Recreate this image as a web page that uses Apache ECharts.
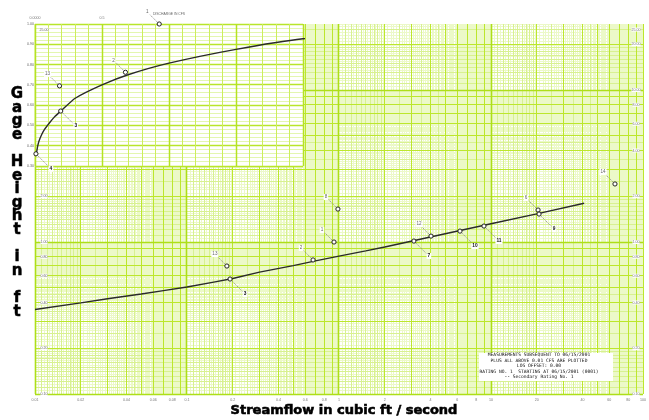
<!DOCTYPE html>
<html><head><meta charset="utf-8">
<script src="https://cdn.jsdelivr.net/npm/echarts@6/dist/echarts.min.js"></script>
<style>html,body{margin:0;padding:0;background:#fff}#c{width:649px;height:420px}</style>
</head><body><div id="c"></div>
<script>
// ---- Rating curve ----
const curveQ  = [0.01, 0.02, 0.03, 0.05, 0.07, 0.1, 0.15, 0.2, 0.3, 0.5, 0.7, 1, 1.5, 2, 5, 10, 20, 41];
const curveGH = [0.360, 0.398, 0.423, 0.455, 0.479, 0.506, 0.545, 0.575, 0.634, 0.700, 0.751, 0.807, 0.875, 0.927, 1.134, 1.319, 1.531, 1.798];

// ---- Measurements ----
const measId = ['1', '2', '3', '4', '6', '7', '8', '9', '10', '11', '12', '13', '14'];
const measQ  = [0.927, 0.675, 0.192, 0.007, 20.4, 3.11, 0.984, 20.7, 6.25, 8.99, 4.03, 0.183, 65.4];
const measGH = [1.00, 0.762, 0.571, 0.36, 1.624, 1.015, 1.648, 1.528, 1.18, 1.274, 1.094, 0.695, 2.41];
// label side: -1 = up-left (grey), 1 = down-right (bold)
const measSide = [-1, -1, 1, 1, -1, 1, -1, 1, 1, 1, -1, -1, -1];

// ---- Tick labels ----
const xTickLabels = ['0.01','0.02','0.04','0.06','0.08','0.1','0.2','0.4','0.6','0.8','1','2','4','6','8','10','20','40','60','80','100'];
const yTickRight = ['25.00','20.00','10.00','8.00','6.00','4.00','2.00','1.00','0.80','0.60','0.40','0.20','0.10'];
const yTickLeft = ['25.00','2.00','1.00','0.80','0.60','0.40','0.20','0.10'];
const insetXLabels = ['0.0000','0.5'];
const insetYLabels = ['1.00','0.90','0.80','0.70','0.60','0.50','0.40','0.30'];
const insetTitle = 'DISCHARGE IN CFS';
const noteLines = ['MEASUREMENTS SUBSEQUENT TO 06/15/2001','PLUS ALL ABOVE 0.01 CFS ARE PLOTTED','LOG OFFSET: 0.00','RATING NO. 1  STARTING AT 06/15/2001 (0001)','-- Secondary Rating No. 1'];
const xTitle = 'Streamflow in cubic ft / second';
const yTitle = 'Gage Height in ft';

// ---- Axis ranges ----
const X_MIN = 0.01, X_MAX = 100, Y_MIN = 0.1, Y_MAX = 27.2;
const IX_MIN = 0, IX_MAX = 2, IY_MIN = 0.3, IY_MAX = 1.0;

// ---- graph-paper rulings (per decade, multiples of the decade) ----
const xDecades = [0.01, 0.1, 1, 10];
const yDecades = [0.1, 1, 10];
const rulingLevels = [
  {segs: [[1, 2, 0.05], [2, 10, 0.1]], stroke: '#ecf9c8', w: 1},
  {segs: [[1, 2, 0.1], [2, 5, 0.5]], stroke: '#d8f191', w: 1},
  {segs: [[1, 10, 1]], stroke: '#bce72c', w: 1},
  {segs: [[1, 1, 1]], stroke: '#addf18', w: 1.6}
];
const insetXSteps = [[0.1, '#cdee5c', 1], [0.5, '#b5e322', 1.5]];
const insetYSteps = [[0.02, '#e3f6b0', 1], [0.1, '#b8e52a', 1.5]];

function logValues(decades, segs, lo, hi) {
  const out = [];
  decades.forEach(d => segs.forEach(s => {
    const n = Math.round((s[1] - s[0]) / s[2]);
    for (let i = 0; i <= n; i++) {
      const v = +(d * (s[0] + i * s[2])).toPrecision(10);
      if (v >= lo * 0.999999 && v <= hi * 1.000001) out.push(v);
    }
  }));
  return out;
}
function linValues(lo, hi, step) {
  const out = [];
  const n = Math.round((hi - lo) / step);
  for (let i = 0; i <= n; i++) out.push(+(lo + i * step).toFixed(6));
  return out;
}
const crisp = v => Math.round(v - 0.5) + 0.5;

function txt(x, y, text, extra) {
  return {type: 'text', x: x, y: y, style: Object.assign({
    text: text, fill: '#777', font: '3.6px "Liberation Sans"',
    align: 'center', verticalAlign: 'middle', textAlign: 'center', textVerticalAlign: 'middle'
  }, extra || {})};
}

const chart = echarts.init(document.getElementById('c'), null, {renderer: 'canvas'});

const mainGridSeries = {
  type: 'custom', xAxisIndex: 0, yAxisIndex: 0, z: 1, silent: true, data: [[1, 1]],
  renderItem: function (params, api) {
    const ch = [];
    rulingLevels.forEach(L => {
      logValues(xDecades, L.segs, X_MIN, X_MAX).forEach(v => {
        const a = api.coord([v, Y_MIN]), b = api.coord([v, Y_MAX]);
        const x = crisp(a[0]);
        ch.push({type: 'line', shape: {x1: x, y1: a[1], x2: x, y2: b[1]}, style: {stroke: L.stroke, lineWidth: L.w}});
      });
      logValues(yDecades, L.segs, Y_MIN, Y_MAX).forEach(v => {
        const a = api.coord([X_MIN, v]), b = api.coord([X_MAX, v]);
        const y = crisp(a[1]);
        ch.push({type: 'line', shape: {x1: a[0], y1: y, x2: b[0], y2: y}, style: {stroke: L.stroke, lineWidth: L.w}});
      });
    });
    return {type: 'group', children: ch};
  }
};

const insetGridSeries = {
  type: 'custom', xAxisIndex: 1, yAxisIndex: 1, z: 3, silent: true, data: [[1, 0.5]],
  renderItem: function (params, api) {
    const tl = api.coord([IX_MIN, IY_MAX]), br = api.coord([IX_MAX, IY_MIN]);
    const ch = [{type: 'rect', shape: {x: tl[0], y: tl[1], width: br[0] - tl[0], height: br[1] - tl[1]}, style: {fill: '#fff'}}];
    insetYSteps.forEach(s => linValues(IY_MIN, IY_MAX, s[0]).forEach(v => {
      const y = crisp(api.coord([IX_MIN, v])[1]);
      ch.push({type: 'line', shape: {x1: tl[0], y1: y, x2: br[0], y2: y}, style: {stroke: s[1], lineWidth: s[2]}});
    }));
    insetXSteps.forEach(s => linValues(IX_MIN, IX_MAX, s[0]).forEach(v => {
      const x = crisp(api.coord([v, IY_MIN])[0]);
      ch.push({type: 'line', shape: {x1: x, y1: tl[1], x2: x, y2: br[1]}, style: {stroke: s[1], lineWidth: s[2]}});
    }));
    return {type: 'group', children: ch};
  }
};

const mainLabelSeries = {
  type: 'custom', xAxisIndex: 0, yAxisIndex: 0, z: 9, silent: true, data: [[1, 1]],
  renderItem: function (params, api) {
    const ch = [];
    xTickLabels.forEach(t => { const p = api.coord([parseFloat(t), Y_MIN]); ch.push(txt(p[0], p[1] + 6, t)); });
    yTickRight.forEach(t => { const p = api.coord([X_MAX, parseFloat(t)]); ch.push(txt(p[0] - 7, p[1], t, {backgroundColor: '#fff'})); });
    yTickLeft.forEach(t => { const p = api.coord([X_MIN, parseFloat(t)]); ch.push(txt(p[0] + 9, p[1], t, {backgroundColor: '#fff', fill: '#666'})); });
    return {type: 'group', children: ch};
  }
};

const insetLabelSeries = {
  type: 'custom', xAxisIndex: 1, yAxisIndex: 1, z: 9, silent: true, data: [[1, 0.5]],
  renderItem: function (params, api) {
    const ch = [];
    insetYLabels.forEach(t => { const p = api.coord([IX_MIN, parseFloat(t)]); ch.push(txt(p[0] - 4.5, p[1], t, {fill: '#666'})); });
    insetXLabels.forEach(t => { const p = api.coord([parseFloat(t), IY_MAX]); ch.push(txt(p[0], p[1] - 6, t)); });
    const q = api.coord([1, IY_MAX]);
    ch.push(txt(q[0], q[1] - 10, insetTitle, {font: '3.4px "Liberation Sans"', fill: '#666'}));
    return {type: 'group', children: ch};
  }
};

function pointRender(params, api) {
  const i = api.value(2);
  const p = api.coord([api.value(0), api.value(1)]);
  const s = measSide[i];
  const dx = s < 0 ? -12 : 15, dy = s < 0 ? -12 : 15;
  const lx = p[0] + dx, ly = p[1] + dy;
  const len = Math.hypot(dx, dy), ux = dx / len, uy = dy / len;
  return {type: 'group', children: [
    {type: 'line', shape: {x1: p[0] + ux * 3, y1: p[1] + uy * 3, x2: lx - ux * 3.5, y2: ly - uy * 3.5},
     style: {stroke: '#8a8a8a', lineWidth: 0.8, lineDash: [1.5, 0.8]}},
    {type: 'circle', shape: {cx: p[0], cy: p[1], r: 2.1}, style: {fill: '#fff', stroke: '#222', lineWidth: 1}},
    txt(lx, ly, measId[i], s < 0
      ? {font: '4.6px "Liberation Sans"', fill: '#666', backgroundColor: '#fff', padding: [0.5, 1]}
      : {font: 'bold 4.8px "Liberation Sans"', fill: '#111', backgroundColor: '#fff', padding: [0.5, 1]})
  ]};
}

const mainPts = [], insetPts = [];
measId.forEach((id, i) => {
  const q = measQ[i], g = measGH[i];
  if (q >= X_MIN && q <= X_MAX && g >= Y_MIN && g <= Y_MAX) mainPts.push([q, g, i]);
  if (q >= IX_MIN && q <= IX_MAX && g >= IY_MIN && g <= IY_MAX + 1e-9) insetPts.push([q, g, i]);
});
const curveData = curveQ.map((q, i) => [q, curveGH[i]]);

const option = {
  animation: false,
  backgroundColor: '#fff',
  grid: [
    {left: 35, top: 24, width: 608, height: 370, show: false},
    {left: 35, top: 24, width: 268, height: 142, show: false}
  ],
  xAxis: [
    {gridIndex: 0, type: 'log', logBase: 10, min: X_MIN, max: X_MAX, show: false},
    {gridIndex: 1, type: 'value', min: IX_MIN, max: IX_MAX, show: false}
  ],
  yAxis: [
    {gridIndex: 0, type: 'log', logBase: 10, min: Y_MIN, max: Y_MAX, show: false},
    {gridIndex: 1, type: 'value', min: IY_MIN, max: IY_MAX, show: false}
  ],
  series: [
    mainGridSeries,
    {type: 'line', xAxisIndex: 0, yAxisIndex: 0, z: 4, data: curveData, showSymbol: false, silent: true,
     lineStyle: {color: '#2a2a2a', width: 1.4}},
    insetGridSeries,
    {type: 'line', xAxisIndex: 1, yAxisIndex: 1, z: 5, data: curveData, showSymbol: false, silent: true, clip: true,
     smooth: 0.2, lineStyle: {color: '#2a2a2a', width: 1.4}},
    {type: 'custom', xAxisIndex: 0, yAxisIndex: 0, z: 7, data: mainPts, renderItem: pointRender, silent: true},
    {type: 'custom', xAxisIndex: 1, yAxisIndex: 1, z: 7, data: insetPts, renderItem: pointRender, silent: true},
    mainLabelSeries,
    insetLabelSeries
  ],
  graphic: [
    {type: 'rect', z: 50, shape: {x: 479, y: 353, width: 134, height: 28}, style: {fill: '#fff'}},
    {type: 'text', z: 51, x: 539, y: 366, style: {
      text: noteLines.join('\n'), font: '4.6px "DejaVu Sans Mono"', fill: '#111', lineHeight: 5.4,
      align: 'center', verticalAlign: 'middle', textAlign: 'center', textVerticalAlign: 'middle'}},
    {type: 'text', z: 51, x: 344, y: 411, style: {
      text: xTitle, font: 'bold 13px "DejaVu Sans"', fill: '#000', stroke: '#000', lineWidth: 0.6,
      align: 'center', verticalAlign: 'middle', textAlign: 'center', textVerticalAlign: 'middle'}},
    {type: 'text', z: 51, x: 17, y: 203, style: {
      text: yTitle.split('').join('\n'), font: 'bold 15px "DejaVu Sans"', fill: '#000', stroke: '#000', lineWidth: 0.5,
      lineHeight: 13.6, align: 'center', verticalAlign: 'middle', textAlign: 'center', textVerticalAlign: 'middle'}}
  ]
};
chart.setOption(option);
</script>
</body></html>
